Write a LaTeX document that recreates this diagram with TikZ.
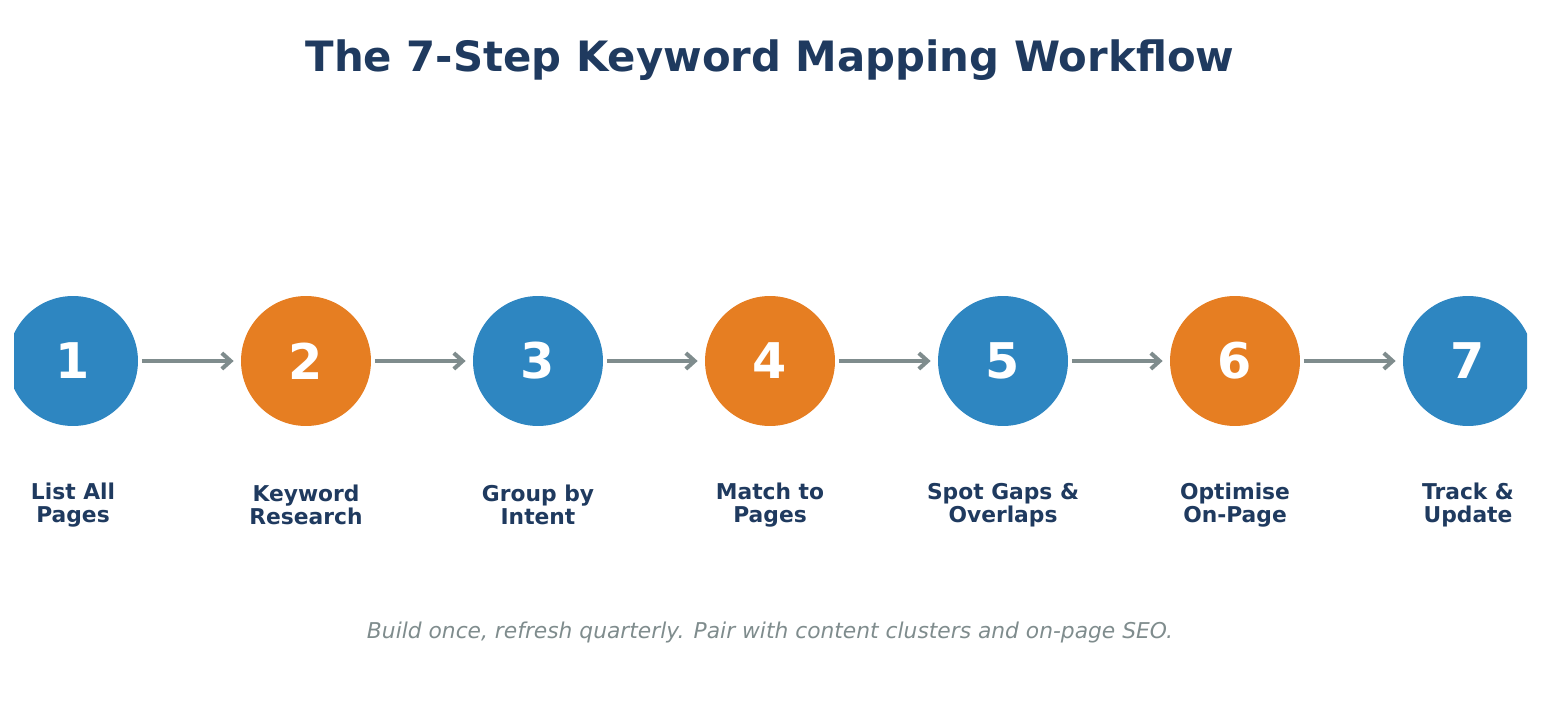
\documentclass[tikz,border=0pt]{standalone}
\usepackage{fontspec}
\setmainfont{DejaVu Sans}
\usetikzlibrary{arrows.meta}
\definecolor{cblue}{HTML}{2E86C1}
\definecolor{corange}{HTML}{E67E22}
\definecolor{cdark}{HTML}{1F3A5F}
\definecolor{cgray}{HTML}{7F8C8D}
\begin{document}
\begin{tikzpicture}[x=0.02cm,y=-0.02cm,
  stepnode/.style={circle,minimum size=2.6cm,inner sep=0,text=white,font=\fontsize{28}{30}\selectfont\bfseries},
  lbl/.style={align=center,text=cdark,font=\fontsize{12.4}{13.4}\selectfont\bfseries},
  conn/.style={cgray,line width=2.3pt,-{Straight Barb[length=5pt,width=9pt]},shorten <=2pt,shorten >=4pt}]
\useasboundingbox (0,0) rectangle (1541,723);
\node[text=cdark,font=\fontsize{23.8}{26}\selectfont\bfseries] (title) at (770,60) {The 7-Step Keyword Mapping Workflow};
\begin{scope}
\clip (14,0) rectangle (1527,723);
\foreach \i/\x/\c in {1/73/cblue,2/306/corange,3/538/cblue,4/770/corange,5/1003/cblue,6/1235/corange,7/1468/cblue}
  \node[stepnode,fill=\c] (s\i) at (\x,361) {\i};
\end{scope}
\foreach \a/\b in {1/2,2/3,3/4,4/5,5/6,6/7}
  \draw[conn] (s\a) -- (s\b);
\foreach \i/\x/\t in {1/73/{List All\\Pages},2/306/{Keyword\\Research},3/538/{Group by\\Intent},4/770/{Match to\\Pages},5/1003/{Spot Gaps \&\\Overlaps},6/1235/{Optimise\\On-Page},7/1468/{Track \&\\Update}}
  \node[lbl] (l\i) at (\x,505) {\t};
\node[text=cgray,font=\fontsize{12.4}{14}\selectfont\itshape] (foot) at (770,632) {Build once, refresh quarterly. Pair with content clusters and on-page SEO.};
\end{tikzpicture}
\end{document}
